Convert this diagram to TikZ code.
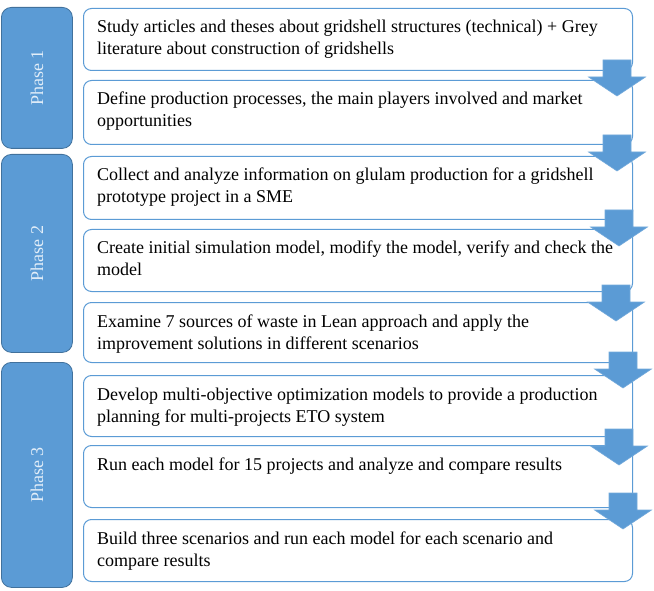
\documentclass[tikz,border=0pt]{standalone}
\usepackage{fontspec}
\setmainfont{Liberation Serif}
\usetikzlibrary{positioning}
\definecolor{phaseblue}{HTML}{5B9BD5}
\definecolor{phaseedge}{HTML}{41719C}
\definecolor{phasetext}{HTML}{E2EEF9}

\begin{document}
\begin{tikzpicture}[x=1pt, y=-1pt,
    phase/.style={draw=phaseedge, fill=phaseblue, rounded corners=10pt, line width=0.8pt,
                  anchor=north west, minimum width=71pt, inner sep=0pt},
    phaselabel/.style={rotate=90, text=phasetext, inner sep=0pt, font=\fontsize{18}{20}\selectfont},
    task/.style={draw=phaseblue, fill=white, rounded corners=8pt, line width=1pt,
                 anchor=north west, minimum width=549pt, inner sep=0pt},
    tasktext/.style={anchor=base west, inner sep=0pt, font=\fontsize{18}{22}\selectfont},
    blockarrow/.style={fill=phaseblue, draw=phaseblue!85!white, line width=0.6pt}]
  \useasboundingbox (0,0) rectangle (654,591);
  % phases
  \node[phase, minimum height=141pt] (phase1) at (1,7) {};
  \node[phase, minimum height=198pt] (phase2) at (1,154) {};
  \node[phase, minimum height=225pt] (phase3) at (1,362) {};
  \foreach \n in {1,2,3}
    \node[phaselabel] (phaselabel\n) at (phase\n.center) {Phase \n};
  % tasks
  \foreach \n/\top/\bot/\txt in {
      1/8/70/{Study articles and theses about gridshell structures (technical) + Grey\\literature about construction of gridshells},
      2/80/144/{Define production processes, the main players involved and market\\opportunities},
      3/156/219/{Collect and analyze information on glulam production for a gridshell\\prototype project in a SME},
      4/229/291/{Create initial simulation model, modify the model, verify and check the\\model},
      5/302/362/{Examine 7 sources of waste in Lean approach and apply the\\improvement solutions in different scenarios},
      6/375/436/{Develop multi-objective optimization models to provide a production\\planning for multi-projects ETO system},
      7/445/507/{Run each model for 15 projects and analyze and compare results},
      8/519/581/{Build three scenarios and run each model for each scenario and\\compare results}} {
    \node[task, minimum height={(\bot-\top)*1pt}] (task\n) at (83,\top) {};
    \node[tasktext] (tasklabel\n) at ([xshift=14pt,yshift=-25pt]task\n.north west)
      {\parbox[t]{530pt}{\raggedright\txt}};
  }
  % down arrows
  \foreach \cx/\ty in {617/60, 617/135, 619/210, 616/285, 623/352, 619/429, 623/493}
    \draw[blockarrow] (\cx-14,\ty) -- ++(28,0) -- ++(0,17) -- ++(14.5,0)
      -- (\cx,\ty+36) -- ++(-28.5,-19) -- ++(14.5,0) -- cycle;
\end{tikzpicture}
\end{document}
